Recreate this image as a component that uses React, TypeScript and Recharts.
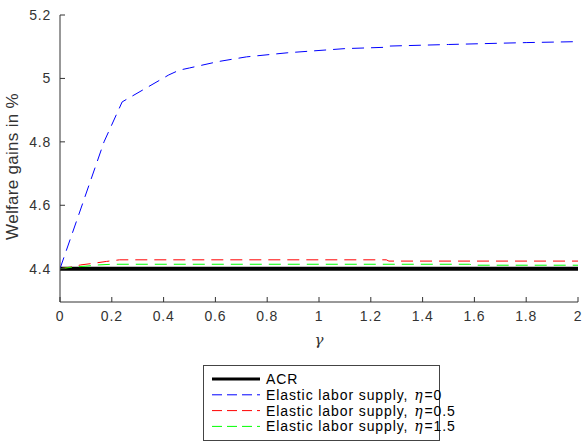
import { LineChart, Line, XAxis, YAxis } from 'recharts';

// gamma grid and welfare gains (%)
const acrGamma = [0, 2];
const acrGains = [4.4, 4.4];

const eta0Gamma = [0, 0.17, 0.24, 0.42, 0.46, 0.5, 0.61, 0.72, 0.88, 1.1, 1.25, 1.27, 1.5, 1.8, 2];
const eta0Gains = [4.4, 4.8, 4.926, 5.011, 5.026, 5.033, 5.053, 5.068, 5.081, 5.094, 5.098, 5.102, 5.107, 5.113, 5.116];

const eta05Gamma = [0, 0.04, 0.08, 0.12, 0.18, 0.23, 1.26, 1.27, 2];
const eta05Gains = [4.4, 4.405, 4.412, 4.416, 4.423, 4.428, 4.428, 4.424, 4.424];

const eta15Gamma = [0, 0.05, 0.1, 0.15, 0.2, 1.58, 1.6, 2];
const eta15Gains = [4.4, 4.405, 4.408, 4.412, 4.414, 4.414, 4.411, 4.411];

const gammaTicks = [0, 0.2, 0.4, 0.6, 0.8, 1, 1.2, 1.4, 1.6, 1.8, 2];
const gainTicks = [4.4, 4.6, 4.8, 5, 5.2];

const toRows = (xs: number[], ys: number[]) => xs.map((g, i) => ({ gamma: g, gain: ys[i] }));

const series = [
  { key: 'acr', name: 'ACR', eta: '', data: toRows(acrGamma, acrGains), color: '#000000', width: 4, dash: undefined as string | undefined },
  { key: 'e0', name: 'Elastic labor supply, ', eta: '=0', data: toRows(eta0Gamma, eta0Gains), color: '#0000ff', width: 1, dash: '12 7' },
  { key: 'e05', name: 'Elastic labor supply, ', eta: '=0.5', data: toRows(eta05Gamma, eta05Gains), color: '#ff0000', width: 1, dash: '12 7' },
  { key: 'e15', name: 'Elastic labor supply, ', eta: '=1.5', data: toRows(eta15Gamma, eta15Gains), color: '#00ff00', width: 1, dash: '12 7' },
];

const axisColor = '#333';
const textColor = '#333';
const font = '"Liberation Sans", Arial, Helvetica, sans-serif';

const BottomTick = (p: any) => (
  <g>
    <line x1={p.x} x2={p.x} y1={p.y} y2={p.y - 5} stroke={axisColor} />
    <text x={p.x} y={p.y + 19} textAnchor="middle" fontSize={14} letterSpacing={0.8} fill={textColor} fontFamily={font}>
      {String(p.payload.value)}
    </text>
  </g>
);

const LeftTick = (p: any) => (
  <g>
    <line x1={p.x} x2={p.x + 5} y1={p.y} y2={p.y} stroke={axisColor} />
    <text x={p.x - 9} y={p.y + 5} textAnchor="end" fontSize={14} letterSpacing={0.8} fill={textColor} fontFamily={font}>
      {String(p.payload.value)}
    </text>
  </g>
);

const TopTick = (p: any) => <line x1={p.x} x2={p.x} y1={p.y} y2={p.y + 5} stroke={axisColor} />;
const RightTick = (p: any) => <line x1={p.x} x2={p.x - 5} y1={p.y} y2={p.y} stroke={axisColor} />;

export default function App() {
  return (
    <div style={{ position: 'absolute', left: 0, top: 0, width: 584, height: 444, background: '#fff' }}>
      <LineChart width={584} height={444} margin={{ top: 15, right: 6, bottom: 112, left: 10 }}>
        <XAxis
          dataKey="gamma"
          type="number"
          domain={[0, 2]}
          ticks={gammaTicks}
          interval={0}
          height={30}
          tickSize={0}
          tickMargin={0}
          tickLine={false}
          stroke={axisColor}
          tick={BottomTick}
          allowDataOverflow
          label={{
            content: (props: any) => (
              <text
                x={props.viewBox.x + props.viewBox.width / 2}
                y={345}
                textAnchor="middle"
                fontSize={15}
                fill={textColor}
                fontStyle="italic"
                fontFamily='"DejaVu Serif", serif'
              >
                γ
              </text>
            ),
          }}
        />
        <XAxis
          xAxisId="top"
          orientation="top"
          type="number"
          domain={[0, 2]}
          ticks={gammaTicks}
          interval={0}
          mirror
          height={0}
          tickSize={0}
          tickMargin={0}
          tickLine={false}
          stroke={axisColor}
          tick={TopTick}
          allowDataOverflow
        />
        <YAxis
          type="number"
          domain={[4.295, 5.2]}
          ticks={gainTicks}
          interval={0}
          width={50}
          tickSize={0}
          tickMargin={0}
          tickLine={false}
          stroke={axisColor}
          tick={LeftTick}
          allowDataOverflow
          label={{
            content: (props: any) => {
              const cy = props.viewBox.y + props.viewBox.height / 2 + 8;
              return (
                <text
                  x={18}
                  y={cy}
                  transform={`rotate(-90 18 ${cy})`}
                  textAnchor="middle"
                  fontSize={17}
                  letterSpacing={0.3}
                  fill={textColor}
                  fontFamily={font}
                >
                  Welfare gains in %
                </text>
              );
            },
          }}
        />
        <YAxis
          yAxisId="right"
          orientation="right"
          type="number"
          domain={[4.295, 5.2]}
          ticks={gainTicks}
          interval={0}
          mirror
          width={0}
          tickSize={0}
          tickMargin={0}
          tickLine={false}
          stroke={axisColor}
          tick={RightTick}
          allowDataOverflow
        />
        {series.map((s) => (
          <Line
            key={s.key}
            data={s.data}
            dataKey="gain"
            type="linear"
            stroke={s.color}
            strokeWidth={s.width}
            strokeDasharray={s.dash}
            dot={false}
            activeDot={false}
            isAnimationActive={false}
          />
        ))}
      </LineChart>
      <svg width={584} height={444} style={{ position: 'absolute', left: 0, top: 0, pointerEvents: 'none' }}>
        <rect x={203.5} y={365.5} width={236} height={75} fill="#fff" stroke="#444" />
        {series.map((s, i) => {
          const y = 379 + i * 15.8;
          return (
            <g key={s.key}>
              <line x1={212} x2={260} y1={y} y2={y} stroke={s.color} strokeWidth={s.width === 4 ? 3 : 1} strokeDasharray={s.dash ? '10 5' : undefined} />
              <text x={266} y={y + 5} fontSize={14} letterSpacing={0.9} fill="#000" fontFamily={font}>
                <tspan>{s.name}</tspan>
                {s.eta && <tspan fontFamily='"DejaVu Serif", serif' fontStyle="italic" dx={1}>η</tspan>}
                {s.eta && <tspan fontFamily={font} dx={1}>{s.eta}</tspan>}
              </text>
            </g>
          );
        })}
      </svg>
    </div>
  );
}
